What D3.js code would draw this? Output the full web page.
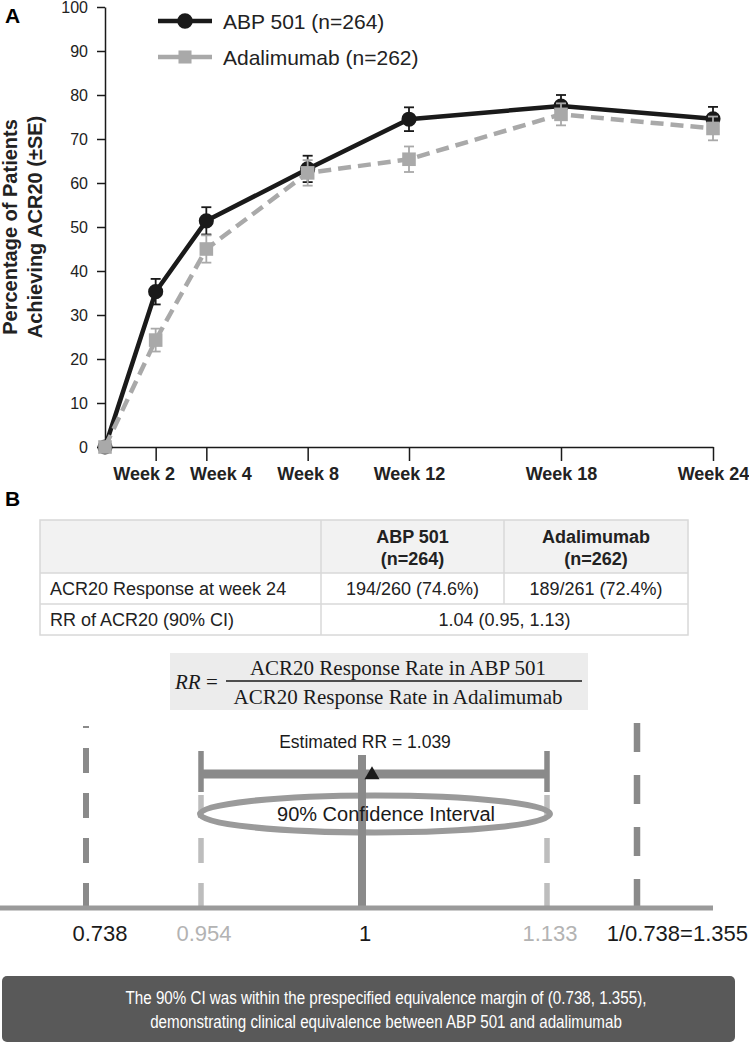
<!DOCTYPE html>
<html>
<head>
<meta charset="utf-8">
<script src="https://cdn.jsdelivr.net/npm/d3@7"></script>
<style>
  html, body { margin: 0; padding: 0; background: #fff; }
  svg { display: block; font-family: "Liberation Sans", Arial, sans-serif; }
</style>
</head>
<body>
<div id="chart"></div>
<script>
// ---- data ----
var weeks = [0, 2, 4, 8, 12, 18, 24];
var weekTicks = [2, 4, 8, 12, 18, 24];
var yTicks = [0, 10, 20, 30, 40, 50, 60, 70, 80, 90, 100];

var abp501 = [0, 35.3, 51.4, 63.2, 74.5, 77.5, 74.6];
var abp501SE = [0, 2.9, 3.1, 3.0, 2.7, 2.5, 2.7];
var adalimumab = [0, 24.3, 45.0, 62.3, 65.4, 75.6, 72.4];
var adalimumabSE = [0, 2.6, 3.1, 2.9, 2.9, 2.5, 2.7];

var seriesNames = ['ABP 501 (n=264)', 'Adalimumab (n=262)'];

var tableHeader = [['', ''], ['ABP 501', '(n=264)'], ['Adalimumab', '(n=262)']];
var tableRow1 = ['ACR20 Response at week 24', '194/260 (74.6%)', '189/261 (72.4%)'];
var tableRow2 = ['RR of ACR20 (90% CI)', '1.04 (0.95, 1.13)'];

var marginBounds = [0.738, 1.355];
var ciBounds = [0.954, 1.133];
var nullRR = 1;
var estimateRR = 1.039;
var forestValues = [0.738, 0.954, 1, 1.133, 1.355];
var forestLabels = ['0.738', '0.954', '1', '1.133', '1/0.738=1.355'];

var conclusion = [
    'The 90% CI was within the prespecified equivalence margin of (0.738, 1.355),',
    'demonstrating clinical equivalence between ABP 501 and adalimumab'
];

// ---- setup ----
var W = 749, H = 1044;
var svg = d3.select('#chart').append('svg')
    .attr('width', W)
    .attr('height', H);

var black = '#1a1a1a', grey = '#a9a9a9';

// ================= Panel A =================
var x = d3.scaleLinear().domain([0, 24]).range([105, 713]);
var y = d3.scaleLinear().domain([0, 100]).range([447, 7]);

svg.append('text')
    .attr('x', 5).attr('y', 23)
    .style('font-size', '21px').style('font-weight', 'bold')
    .text('A');

var yAxis = svg.append('g')
    .attr('transform', 'translate(' + x(0) + ',0)')
    .call(d3.axisLeft(y).tickValues(yTicks).tickSize(8).tickSizeOuter(0).tickPadding(9));
yAxis.select('.domain').attr('stroke', black).attr('stroke-width', 1.5);
yAxis.selectAll('.tick line').attr('stroke', black).attr('stroke-width', 1.5);
yAxis.selectAll('.tick text')
    .style('font-size', '16px').style('font-family', '"Liberation Sans", Arial, sans-serif')
    .attr('fill', '#222');

var xAxis = svg.append('g')
    .attr('transform', 'translate(0,' + y(0) + ')')
    .call(d3.axisBottom(x).tickValues(weekTicks).tickSize(14).tickSizeOuter(0).tickPadding(6)
        .tickFormat(function(d) { return 'Week ' + d; }));
xAxis.select('.domain').attr('stroke', black).attr('stroke-width', 1.5);
xAxis.selectAll('.tick line').attr('stroke', black).attr('stroke-width', 1.5);
xAxis.selectAll('.tick text')
    .style('font-size', '18px').style('font-weight', 'bold')
    .style('font-family', '"Liberation Sans", Arial, sans-serif')
    .attr('fill', '#222')
    .attr('dx', function(d) { return d === 2 ? -12 : (d === 4 ? 14 : 0); });

// y axis title
var yTitle = svg.append('text')
    .attr('transform', 'translate(17,227) rotate(-90)')
    .attr('text-anchor', 'middle')
    .style('font-size', '20px').style('font-weight', 'bold')
    .attr('fill', '#222');
yTitle.append('tspan').attr('x', 0).attr('dy', 0).text('Percentage of Patients');
yTitle.append('tspan').attr('x', 0).attr('dy', 25).text('Achieving ACR20 (\u00B1SE)');

function drawSeries(values, se, color, dashed, marker) {
    var pts = weeks.map(function(w, i) { return { w: w, v: values[i], se: se[i] }; });
    var line = d3.line()
        .x(function(d) { return x(d.w); })
        .y(function(d) { return y(d.v); });
    svg.append('path')
        .datum(pts)
        .attr('d', line)
        .attr('fill', 'none')
        .attr('stroke', color)
        .attr('stroke-width', 4.5)
        .attr('stroke-dasharray', dashed ? '13,7' : null);

    var eb = svg.append('g').selectAll('g')
        .data(pts.filter(function(d) { return d.se > 0; }))
        .enter().append('g')
        .attr('stroke', color).attr('stroke-width', 1.8);
    eb.append('line')
        .attr('x1', function(d) { return x(d.w); })
        .attr('x2', function(d) { return x(d.w); })
        .attr('y1', function(d) { return y(d.v + d.se); })
        .attr('y2', function(d) { return y(d.v - d.se); });
    [1, -1].forEach(function(s) {
        eb.append('line')
            .attr('x1', function(d) { return x(d.w) - 5; })
            .attr('x2', function(d) { return x(d.w) + 5; })
            .attr('y1', function(d) { return y(d.v + s * d.se); })
            .attr('y2', function(d) { return y(d.v + s * d.se); });
    });

    svg.append('g').selectAll('path')
        .data(pts)
        .enter().append('path')
        .attr('transform', function(d) { return 'translate(' + x(d.w) + ',' + y(d.v) + ')'; })
        .attr('d', d3.symbol().type(marker).size(marker === d3.symbolCircle ? 180 : 185))
        .attr('fill', color);
}

drawSeries(abp501, abp501SE, black, false, d3.symbolCircle);
drawSeries(adalimumab, adalimumabSE, grey, true, d3.symbolSquare);

// legend
var legend = svg.append('g');
[[black, d3.symbolCircle, 21], [grey, d3.symbolSquare, 57]].forEach(function(l, i) {
    legend.append('line')
        .attr('x1', 158).attr('x2', 212)
        .attr('y1', l[2]).attr('y2', l[2])
        .attr('stroke', l[0]).attr('stroke-width', 4.5);
    legend.append('path')
        .attr('transform', 'translate(185,' + l[2] + ')')
        .attr('d', d3.symbol().type(l[1]).size(i === 0 ? 190 : 170))
        .attr('fill', l[0]);
    legend.append('text')
        .attr('x', 223).attr('y', l[2]).attr('dy', '0.36em')
        .style('font-size', '21px')
        .attr('fill', '#222')
        .text(seriesNames[i]);
});

// ================= Panel B =================
svg.append('text')
    .attr('x', 5).attr('y', 506)
    .style('font-size', '21px').style('font-weight', 'bold')
    .text('B');

// table
var colX = [40, 321, 504, 688];
var rowY = [520, 573, 604, 635];
var border = '#d8d8d8';
var tbl = svg.append('g').style('font-size', '18px').attr('fill', '#222');

tbl.append('rect')
    .attr('x', colX[0]).attr('y', rowY[0])
    .attr('width', colX[3] - colX[0]).attr('height', rowY[1] - rowY[0])
    .attr('fill', '#f2f2f2');
tbl.append('rect')
    .attr('x', colX[0]).attr('y', rowY[0])
    .attr('width', colX[3] - colX[0]).attr('height', rowY[3] - rowY[0])
    .attr('fill', 'none').attr('stroke', border).attr('stroke-width', 1.5);
[rowY[1], rowY[2]].forEach(function(yy) {
    tbl.append('line').attr('x1', colX[0]).attr('x2', colX[3]).attr('y1', yy).attr('y2', yy)
        .attr('stroke', border).attr('stroke-width', 1.5);
});
tbl.append('line').attr('x1', colX[1]).attr('x2', colX[1]).attr('y1', rowY[0]).attr('y2', rowY[3])
    .attr('stroke', border).attr('stroke-width', 1.5);
tbl.append('line').attr('x1', colX[2]).attr('x2', colX[2]).attr('y1', rowY[0]).attr('y2', rowY[2])
    .attr('stroke', border).attr('stroke-width', 1.5);

tableHeader.forEach(function(h, i) {
    if (i === 0) return;
    var cx = (colX[i] + colX[i + 1]) / 2;
    h.forEach(function(t, j) {
        tbl.append('text')
            .attr('x', cx).attr('y', 537 + j * 22).attr('dy', '0.36em')
            .attr('text-anchor', 'middle')
            .style('font-weight', 'bold')
            .text(t);
    });
});
tableRow1.forEach(function(t, i) {
    tbl.append('text')
        .attr('x', i === 0 ? 50 : (colX[i] + colX[i + 1]) / 2)
        .attr('y', (rowY[1] + rowY[2]) / 2).attr('dy', '0.36em')
        .attr('text-anchor', i === 0 ? 'start' : 'middle')
        .text(t);
});
tableRow2.forEach(function(t, i) {
    tbl.append('text')
        .attr('x', i === 0 ? 50 : (colX[1] + colX[3]) / 2)
        .attr('y', (rowY[2] + rowY[3]) / 2).attr('dy', '0.36em')
        .attr('text-anchor', i === 0 ? 'start' : 'middle')
        .text(t);
});

// formula
var fm = svg.append('g')
    .style('font-family', '"Liberation Serif", "Times New Roman", serif')
    .style('font-size', '21px').attr('fill', '#1a1a1a');
fm.append('rect').attr('x', 170).attr('y', 653).attr('width', 418).attr('height', 57).attr('fill', '#ececec');
fm.append('text').attr('x', 175).attr('y', 689).style('font-style', 'italic').text('RR');
fm.append('text').attr('x', 206).attr('y', 689).text('=');
fm.append('line').attr('x1', 226).attr('x2', 582).attr('y1', 681).attr('y2', 681)
    .attr('stroke', '#1a1a1a').attr('stroke-width', 1.5);
fm.append('text').attr('x', 398).attr('y', 675).attr('text-anchor', 'middle')
    .text('ACR20 Response Rate in ABP 501');
fm.append('text').attr('x', 398).attr('y', 704).attr('text-anchor', 'middle')
    .text('ACR20 Response Rate in Adalimumab');

// forest (schematic, not to scale: piecewise scale on the labelled values)
var fx = d3.scaleLinear()
    .domain([0.738, 0.954, 1, 1.039, 1.133, 1.355])
    .range([86, 201, 362, 372, 547, 637]);
var baseY = 908;
var darkG = '#8a8a8a', midG = '#9a9a9a', lightG = '#bdbdbd';
var fp = svg.append('g');

// margin dashed lines (drawn upward from the baseline)
fp.append('line')
    .attr('x1', fx(marginBounds[0])).attr('x2', fx(marginBounds[0]))
    .attr('y1', baseY).attr('y2', 726)
    .attr('stroke', darkG).attr('stroke-width', 6).attr('stroke-dasharray', '25,20');
fp.append('line')
    .attr('x1', fx(marginBounds[1])).attr('x2', fx(marginBounds[1]))
    .attr('y1', baseY).attr('y2', 722)
    .attr('stroke', darkG).attr('stroke-width', 6.5).attr('stroke-dasharray', '29,23');

// CI dashed lines
ciBounds.forEach(function(v) {
    fp.append('line')
        .attr('x1', fx(v)).attr('x2', fx(v))
        .attr('y1', baseY).attr('y2', 795)
        .attr('stroke', lightG).attr('stroke-width', 5.5).attr('stroke-dasharray', '25,20');
});

// ellipse
var ecx = (fx(ciBounds[0]) + fx(ciBounds[1])) / 2 + 1;
fp.append('ellipse')
    .attr('cx', ecx).attr('cy', 814)
    .attr('rx', 175).attr('ry', 18.5)
    .attr('fill', 'none').attr('stroke', midG).attr('stroke-width', 6);

// null line
fp.append('line')
    .attr('x1', fx(nullRR)).attr('x2', fx(nullRR))
    .attr('y1', 755).attr('y2', baseY)
    .attr('stroke', darkG).attr('stroke-width', 8);

// CI bracket
fp.append('line')
    .attr('x1', fx(ciBounds[0])).attr('x2', fx(ciBounds[1]))
    .attr('y1', 774).attr('y2', 774)
    .attr('stroke', darkG).attr('stroke-width', 9);
ciBounds.forEach(function(v) {
    fp.append('line')
        .attr('x1', fx(v)).attr('x2', fx(v))
        .attr('y1', 751).attr('y2', 792)
        .attr('stroke', darkG).attr('stroke-width', 5.5);
});

// baseline
fp.append('line')
    .attr('x1', 0).attr('x2', 713)
    .attr('y1', baseY).attr('y2', baseY)
    .attr('stroke', midG).attr('stroke-width', 5);

// estimate
fp.append('path')
    .attr('transform', 'translate(' + fx(estimateRR) + ',775)')
    .attr('d', d3.symbol().type(d3.symbolTriangle).size(98))
    .attr('fill', black);

fp.append('text')
    .attr('x', 365).attr('y', 748)
    .attr('text-anchor', 'middle')
    .style('font-size', '17.5px').attr('fill', '#1a1a1a')
    .text('Estimated RR = ' + estimateRR);

fp.append('text')
    .attr('x', ecx + 11).attr('y', 821)
    .attr('text-anchor', 'middle')
    .style('font-size', '20px').attr('fill', '#1a1a1a')
    .text('90% Confidence Interval');

forestValues.forEach(function(v, i) {
    var last = i === forestValues.length - 1;
    var isCI = ciBounds.indexOf(v) >= 0;
    fp.append('text')
        .attr('x', last ? W - 1 : fx(v) + (i === 0 ? 14 : 3))
        .attr('y', 941)
        .attr('text-anchor', last ? 'end' : 'middle')
        .style('font-size', '22px')
        .attr('fill', isCI ? '#b3b3b3' : '#1a1a1a')
        .text(forestLabels[i]);
});

// conclusion box (narrow lettering, squeezed horizontally)
var cb = svg.append('g');
cb.append('rect')
    .attr('x', 2).attr('y', 976).attr('width', 733).attr('height', 66)
    .attr('rx', 5).attr('fill', '#595959');
conclusion.forEach(function(t, i) {
    cb.append('text')
        .attr('transform', 'translate(386,' + (1004 + i * 24) + ') scale(0.82,1)')
        .attr('text-anchor', 'middle')
        .style('font-size', '18.5px')
        .attr('fill', '#ffffff')
        .text(t);
});
</script>
</body>
</html>
